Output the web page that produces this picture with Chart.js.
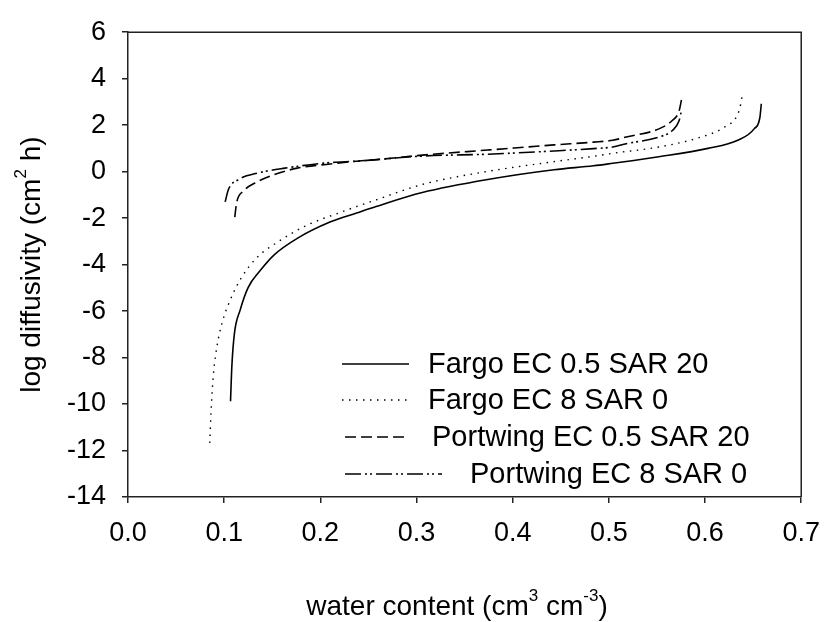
<!DOCTYPE html>
<html>
<head>
<meta charset="utf-8">
<script src="https://cdn.jsdelivr.net/npm/chart.js@4"></script>
<style>
body { margin: 0; background: #fff; }
#wrap { width: 834px; height: 622px; position: relative; }
</style>
</head>
<body>
<div id="wrap"><canvas id="diff_chart"></canvas></div>
<script>
// values (water content, log diffusivity)
const fargo_05_x = [0.1066, 0.108, 0.1107, 0.1165, 0.125, 0.137, 0.152, 0.176, 0.210, 0.2377, 0.258, 0.306, 0.374, 0.443, 0.484, 0.504, 0.552, 0.603, 0.634, 0.651, 0.657, 0.6585];
const fargo_05_y = [-9.88, -8.36, -6.95, -5.97, -4.98, -4.28, -3.58, -2.87, -2.17, -1.78, -1.5, -0.9, -0.34, 0.08, 0.25, 0.36, 0.64, 1.0, 1.35, 1.84, 2.33, 2.92];

const fargo_8_x = [0.085, 0.0867, 0.089, 0.0925, 0.0977, 0.106, 0.118, 0.1335, 0.156, 0.186, 0.221, 0.2377, 0.255, 0.306, 0.374, 0.443, 0.484, 0.504, 0.552, 0.596, 0.620, 0.634, 0.637, 0.639];
const fargo_8_y = [-11.67, -10.05, -8.64, -7.52, -6.53, -5.55, -4.56, -3.72, -3.02, -2.31, -1.75, -1.5, -1.26, -0.55, 0.01, 0.43, 0.66, 0.79, 1.06, 1.49, 1.91, 2.47, 2.89, 3.38];

const portwing_05_x = [0.111, 0.113, 0.120, 0.132, 0.152, 0.176, 0.21, 0.2377, 0.262, 0.306, 0.374, 0.443, 0.484, 0.504, 0.518, 0.552, 0.5656, 0.573, 0.576];
const portwing_05_y = [-1.96, -1.33, -0.84, -0.49, -0.13, 0.15, 0.33, 0.45, 0.53, 0.71, 0.93, 1.15, 1.27, 1.35, 1.49, 1.84, 2.19, 2.61, 3.2];

const portwing_8_x = [0.101, 0.1045, 0.115, 0.135, 0.163, 0.21, 0.2377, 0.306, 0.374, 0.443, 0.484, 0.504, 0.518, 0.552, 0.566, 0.573, 0.575];
const portwing_8_y = [-1.3, -0.76, -0.34, -0.06, 0.15, 0.39, 0.45, 0.67, 0.75, 0.89, 0.99, 1.06, 1.2, 1.49, 1.77, 2.19, 2.54];

const series_labels = ['Fargo EC 0.5 SAR 20', 'Fargo EC 8 SAR 0', 'Portwing EC 0.5 SAR 20', 'Portwing EC 8 SAR 0'];
const x_ticks = [0.0, 0.1, 0.2, 0.3, 0.4, 0.5, 0.6, 0.7];
const y_ticks = [-14, -12, -10, -8, -6, -4, -2, 0, 2, 4, 6];

const FONT = '"Liberation Sans", Arial, sans-serif';

function to_points(xs, ys) {
    return xs.map((x, i) => ({ x: x, y: ys[i] }));
}

// text with superscript parts, centred on (cx, cy)
function draw_rich(ctx, parts, cx, cy, size) {
    const sup = Math.round(size * 0.62);
    let total = 0;
    parts.forEach(p => {
        ctx.font = (p[1] ? sup : size) + 'px ' + FONT;
        total += ctx.measureText(p[0]).width;
    });
    let x = cx - total / 2;
    ctx.textBaseline = 'middle';
    ctx.textAlign = 'left';
    parts.forEach(p => {
        ctx.font = (p[1] ? sup : size) + 'px ' + FONT;
        ctx.fillText(p[0], x, p[1] ? cy - size * 0.38 : cy);
        x += ctx.measureText(p[0]).width;
    });
}

const frame_and_text = {
    id: 'frame_and_text',
    afterDraw(chart) {
        const ctx = chart.ctx;
        const a = chart.chartArea;
        ctx.save();
        // top and right sides of the box
        ctx.strokeStyle = '#222';
        ctx.lineWidth = 1.5;
        ctx.beginPath();
        ctx.moveTo(a.left, a.top);
        ctx.lineTo(a.right, a.top);
        ctx.lineTo(a.right, a.bottom);
        ctx.stroke();

        // legend inside the plot
        const rows = [
            { x0: 342, x1: 409, y: 364, tx: 428 },
            { x0: 342, x1: 409, y: 400, tx: 428 },
            { x0: 345, x1: 409, y: 437, tx: 432 },
            { x0: 345, x1: 442, y: 474, tx: 470 }
        ];
        chart.data.datasets.forEach((ds, i) => {
            const r = rows[i];
            ctx.strokeStyle = ds.borderColor;
            ctx.lineWidth = ds.borderWidth;
            ctx.setLineDash(ds.borderDash || []);
            ctx.beginPath();
            ctx.moveTo(r.x0, r.y);
            ctx.lineTo(r.x1, r.y);
            ctx.stroke();
            ctx.setLineDash([]);
            ctx.fillStyle = '#000';
            ctx.font = '29px ' + FONT;
            ctx.textAlign = 'left';
            ctx.textBaseline = 'middle';
            ctx.fillText(ds.label, r.tx, r.y + 1);
        });

        // axis titles
        ctx.fillStyle = '#000';
        draw_rich(ctx, [['water content (cm', false], ['3', true], [' cm', false], ['-3', true], [')', false]], 457, 607, 28);
        ctx.translate(32, (a.top + a.bottom) / 2);
        ctx.rotate(-Math.PI / 2);
        draw_rich(ctx, [['log diffusivity (cm', false], ['2', true], [' h)', false]], 0, 0, 28);
        ctx.restore();
    }
};

window.onload = function() {
    const ctx = document.getElementById('diff_chart').getContext('2d');
    const styles = [
        { borderWidth: 1.6, borderDash: [] },
        { borderWidth: 1.4, borderDash: [1.5, 5.5] },
        { borderWidth: 1.6, borderDash: [11, 5] },
        { borderWidth: 1.6, borderDash: [16, 4, 2, 3, 2, 4] }
    ];
    const xs = [fargo_05_x, fargo_8_x, portwing_05_x, portwing_8_x];
    const ys = [fargo_05_y, fargo_8_y, portwing_05_y, portwing_8_y];

    new Chart(ctx, {
        type: 'line',
        data: {
            datasets: series_labels.map((label, i) => ({
                label: label,
                data: to_points(xs[i], ys[i]),
                borderColor: '#000',
                borderWidth: styles[i].borderWidth,
                borderDash: styles[i].borderDash,
                pointRadius: 0,
                fill: false,
                cubicInterpolationMode: 'monotone'
            }))
        },
        options: {
            responsive: true,
            maintainAspectRatio: false,
            animation: false,
            layout: { padding: { top: 23, right: 23, left: 0, bottom: 0 } },
            plugins: {
                legend: { display: false },
                tooltip: { enabled: false }
            },
            scales: {
                x: {
                    type: 'linear',
                    min: 0,
                    max: 0.7,
                    afterBuildTicks: function(scale) {
                        scale.ticks = x_ticks.map(v => ({ value: v }));
                    },
                    afterFit: function(scale) { scale.height = 125; },
                    grid: { drawOnChartArea: false, drawTicks: true, tickLength: 6, color: '#222', lineWidth: 1.5 },
                    border: { display: true, color: '#222', width: 1.5 },
                    ticks: {
                        color: '#000',
                        font: { family: FONT, size: 27 },
                        padding: 14,
                        maxRotation: 0,
                        autoSkip: false,
                        callback: function(value) { return value.toFixed(1); }
                    }
                },
                y: {
                    type: 'linear',
                    min: -14,
                    max: 6,
                    afterBuildTicks: function(scale) {
                        scale.ticks = y_ticks.map(v => ({ value: v }));
                    },
                    afterFit: function(scale) { scale.width = 128; },
                    grid: { drawOnChartArea: false, drawTicks: true, tickLength: 6, color: '#222', lineWidth: 1.5 },
                    border: { display: true, color: '#222', width: 1.5 },
                    ticks: {
                        color: '#000',
                        font: { family: FONT, size: 27 },
                        padding: 16,
                        autoSkip: false
                    }
                }
            }
        },
        plugins: [frame_and_text]
    });
};
</script>
</body>
</html>
